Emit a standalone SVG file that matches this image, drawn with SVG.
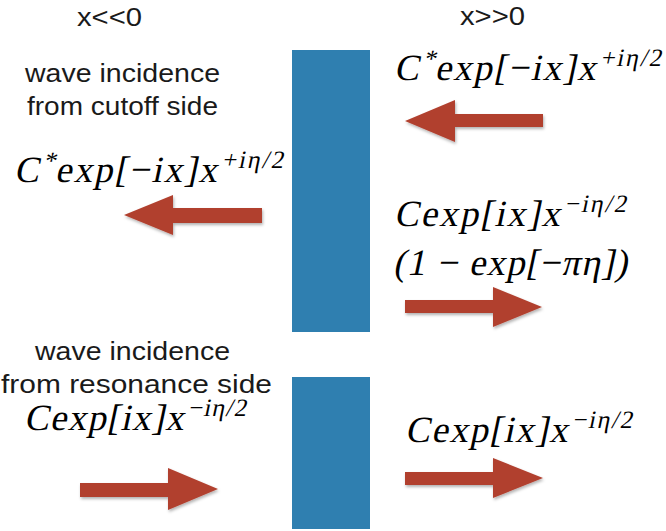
<svg xmlns="http://www.w3.org/2000/svg" width="666" height="531" viewBox="0 0 666 531">
<defs>
<filter id="sh" x="-10%" y="-20%" width="130%" height="160%">
<feDropShadow dx="1" dy="2" stdDeviation="1.5" flood-color="#000" flood-opacity="0.3"/>
</filter>
<style>
.lbl{font-family:"Liberation Sans",Arial,sans-serif;font-size:25px;fill:#1a1a1a;}
.m{font-family:"Liberation Serif","Times New Roman",serif;font-style:normal;font-size:37px;fill:#000;}
.s{font-size:25px;}
.bar{fill:#2f7fb0;}
.arr{fill:#b1402f;filter:url(#sh);}
</style>
</defs>
<rect width="666" height="531" fill="#fff"/>
<g id="barrier-top"><rect class="bar" x="292" y="50" width="78" height="282"/></g>
<g id="barrier-bottom"><rect class="bar" x="292" y="377" width="78" height="152"/></g>
<g id="labels">
<text class="lbl" x="77" y="26" textLength="65" lengthAdjust="spacingAndGlyphs">x&lt;&lt;0</text>
<text class="lbl" x="460" y="25" textLength="65" lengthAdjust="spacingAndGlyphs">x&gt;&gt;0</text>
<text class="lbl" x="25" y="82" textLength="195" lengthAdjust="spacingAndGlyphs">wave incidence</text>
<text class="lbl" x="27" y="115" textLength="191" lengthAdjust="spacingAndGlyphs">from cutoff side</text>
<text class="lbl" x="35" y="360" textLength="195" lengthAdjust="spacingAndGlyphs">wave incidence</text>
<text class="lbl" x="1" y="393" textLength="271" lengthAdjust="spacingAndGlyphs">from resonance side</text>
</g>
<g id="formulas">
<text class="m" transform="translate(14,182) skewX(-12)" x="0" y="0" textLength="266" lengthAdjust="spacing">C<tspan class="s" dy="-13">*</tspan><tspan dy="13">exp[−ix]x</tspan><tspan class="s" dy="-14">+iη/2</tspan></text>
<text class="m" transform="translate(394,80) skewX(-12)" x="0" y="0" textLength="264" lengthAdjust="spacing">C<tspan class="s" dy="-13">*</tspan><tspan dy="13">exp[−ix]x</tspan><tspan class="s" dy="-14">+iη/2</tspan></text>
<text class="m" transform="translate(394,226) skewX(-12)" x="0" y="0" textLength="229" lengthAdjust="spacing">Cexp[ix]x<tspan class="s" dy="-14">−iη/2</tspan></text>
<text class="m" transform="translate(393,275) skewX(-12)" x="0" y="0" textLength="234" lengthAdjust="spacing">(1 − exp[−πη])</text>
<text class="m" transform="translate(24,430) skewX(-12)" x="0" y="0" textLength="219" lengthAdjust="spacing">Cexp[ix]x<tspan class="s" dy="-14">−iη/2</tspan></text>
<text class="m" transform="translate(405,442) skewX(-12)" x="0" y="0" textLength="224" lengthAdjust="spacing">Cexp[ix]x<tspan class="s" dy="-14">−iη/2</tspan></text>
</g>
<g id="connectors">
<polygon class="arr" points="262,208 173,208 173,195 124,215 173,235 173,223 262,223"/>
<polygon class="arr" points="543,114 455,114 455,100 405,121 455,142 455,127 543,127"/>
<polygon class="arr" points="405,300 493,300 493,287 542,307 493,327 493,313 405,313"/>
<polygon class="arr" points="80,483 168,483 168,468 218,489 168,510 168,497 80,497"/>
<polygon class="arr" points="405,472 493,472 493,458 543,478 493,498 493,485 405,485"/>
</g>
</svg>
